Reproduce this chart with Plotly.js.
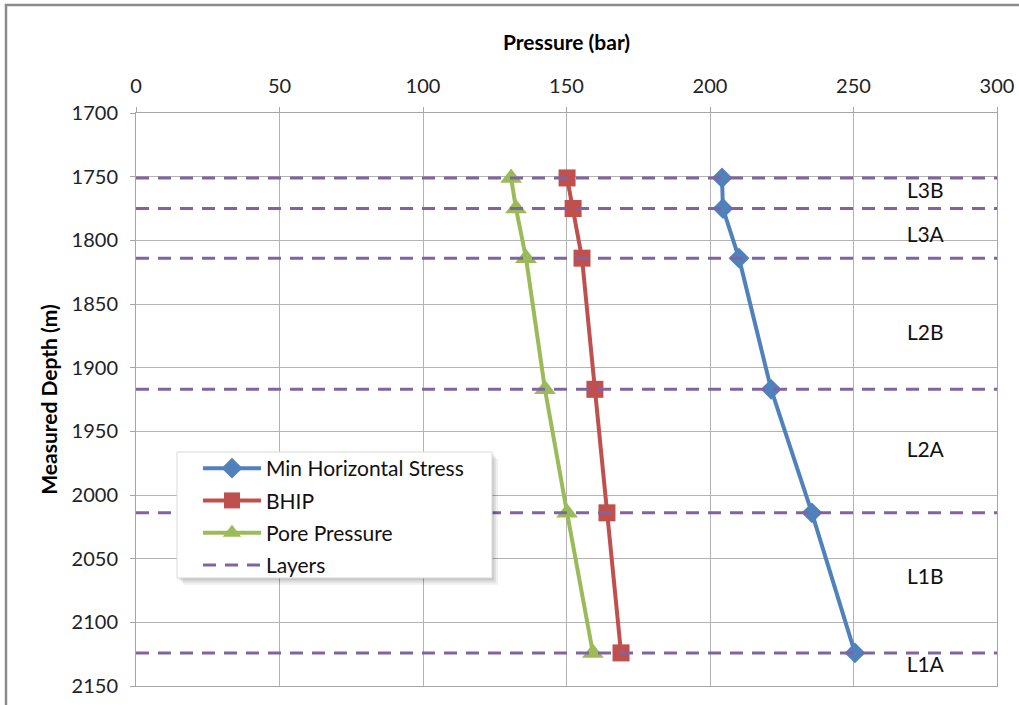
<!DOCTYPE html>
<html>
<head>
<meta charset="utf-8">
<script src="https://cdn.plot.ly/plotly-3.0.1.min.js"></script>
<style>
  html, body { margin: 0; padding: 0; background: #ffffff; }
  #chart { width: 1019px; height: 705px; }
</style>
</head>
<body>
<div id="chart"></div>
<script>
// Measured depths of the sampled points (m)
var depths = [1751, 1775, 1814, 1917, 2014, 2124];

// Pressures at those depths (bar)
var minHorizontalStress = [204.2, 204.5, 210.1, 221.3, 235.5, 250.5];
var bhip = [150.2, 152.3, 155.4, 159.9, 164.1, 169.0];
var porePressure = [130.7, 132.4, 135.9, 142.5, 150.2, 159.2];

// Layer boundaries (m) and the layer names written between them
var layerDepths = [1751, 1775, 1814, 1917, 2014, 2124];
var layerNames = ["L3B", "L3A", "L2B", "L2A", "L1B", "L1A"];
var layerLabelDepths = [1763, 1797, 1874, 1966, 2066, 2135];
var layerLabelPressure = 275;

var pressureRange = [0, 300];
var depthRange = [2150, 1700];

var FONT = "Lato, 'Open Sans', 'Liberation Sans', sans-serif";

// Dashed boundary lines: one segment across the full pressure range per layer
var layerX = [], layerY = [];
layerDepths.forEach(function (d) {
  layerX.push(pressureRange[0], pressureRange[1], null);
  layerY.push(d, d, null);
});

var traces = [
  {
    name: "Min Horizontal Stress",
    x: minHorizontalStress, y: depths,
    mode: "lines+markers",
    line: { color: "#4F81BD", width: 4 },
    marker: { symbol: "diamond", size: 16, color: "#4F81BD" },
    legendgroup: "a"
  },
  {
    name: "BHIP",
    x: bhip, y: depths,
    mode: "lines+markers",
    line: { color: "#C0504D", width: 4 },
    marker: { symbol: "square", size: 17, color: "#C0504D" },
    legendgroup: "b"
  },
  {
    name: "Pore Pressure",
    x: porePressure, y: depths,
    mode: "lines+markers",
    line: { color: "#9BBB59", width: 4 },
    marker: { symbol: "triangle-up", size: 19, color: "#9BBB59" },
    legendgroup: "c"
  },
  {
    name: "Layers",
    x: layerX, y: layerY,
    mode: "lines",
    line: { color: "#8064A2", width: 3, dash: "13px,9px" },
    connectgaps: false,
    legendgroup: "d"
  },
  {
    x: layerNames.map(function () { return layerLabelPressure; }),
    y: layerLabelDepths,
    text: layerNames,
    mode: "text",
    textfont: { family: FONT, size: 21, color: "#111111" },
    showlegend: false,
    hoverinfo: "skip"
  }
];

// legend panel in plot-fraction coordinates
var box = { x0: 0.0476, x1: 0.4135, y0: 0.1885, y1: 0.4084 };

var layout = {
  width: 1019,
  height: 705,
  margin: { l: 136, r: 22, t: 113, b: 19 },
  paper_bgcolor: "#ffffff",
  plot_bgcolor: "#ffffff",
  font: { family: FONT, size: 20, color: "#222222" },
  showlegend: true,
  legend: {
    x: 0.072, y: 0.4154, xanchor: "left", yanchor: "top",
    bgcolor: "rgba(0,0,0,0)",
    borderwidth: 0,
    font: { family: FONT, size: 21, color: "#111111" },
    itemwidth: 58,
    traceorder: "grouped",
    tracegroupgap: 2
  },
  xaxis: {
    side: "top",
    range: pressureRange,
    dtick: 50,
    showgrid: true, gridcolor: "#b3b3b3", gridwidth: 1,
    showline: true, linecolor: "#a6a6a6", linewidth: 1, mirror: true,
    ticks: "outside", ticklen: 5, tickcolor: "#a6a6a6",
    ticklabelstandoff: 6,
    zeroline: false,
    tickfont: { family: FONT, size: 20, color: "#222222" },
    title: { text: "<b>Pressure (bar)</b>", font: { family: FONT, size: 21, color: "#000000" }, standoff: 16 }
  },
  yaxis: {
    range: depthRange,
    dtick: 50,
    showgrid: true, gridcolor: "#b3b3b3", gridwidth: 1,
    showline: true, linecolor: "#a6a6a6", linewidth: 1, mirror: true,
    ticks: "outside", ticklen: 5, tickcolor: "#a6a6a6",
    ticklabelstandoff: 8,
    zeroline: false,
    tickfont: { family: FONT, size: 20, color: "#222222" },
    title: { text: "<b>Measured Depth (m)</b>", font: { family: FONT, size: 21, color: "#000000" }, standoff: 8 }
  },
  shapes: [
    // chart frame
    { type: "rect", xref: "paper", yref: "paper", x0: -0.151, x1: 1.2, y0: -0.2, y1: 1.1885,
      line: { color: "#8c8c8c", width: 2.5 }, fillcolor: "rgba(0,0,0,0)", layer: "above" },
    // soft drop shadow of the legend panel
    { type: "rect", xref: "paper", yref: "paper",
      x0: box.x0 + 0.007, x1: box.x1 + 0.007, y0: box.y0 - 0.012, y1: box.y1 - 0.012,
      line: { width: 0 }, fillcolor: "rgba(0,0,0,0.06)", layer: "above" },
    { type: "rect", xref: "paper", yref: "paper",
      x0: box.x0 + 0.0045, x1: box.x1 + 0.0045, y0: box.y0 - 0.008, y1: box.y1 - 0.008,
      line: { width: 0 }, fillcolor: "rgba(0,0,0,0.08)", layer: "above" },
    { type: "rect", xref: "paper", yref: "paper",
      x0: box.x0 + 0.002, x1: box.x1 + 0.002, y0: box.y0 - 0.004, y1: box.y1 - 0.004,
      line: { width: 0 }, fillcolor: "rgba(0,0,0,0.10)", layer: "above" },
    // legend panel
    { type: "rect", xref: "paper", yref: "paper",
      x0: box.x0, x1: box.x1, y0: box.y0, y1: box.y1,
      line: { color: "#d9d9d9", width: 1 }, fillcolor: "#ffffff", layer: "above" }
  ]
};

Plotly.newPlot("chart", traces, layout, { displayModeBar: false, staticPlot: true });
</script>
</body>
</html>
